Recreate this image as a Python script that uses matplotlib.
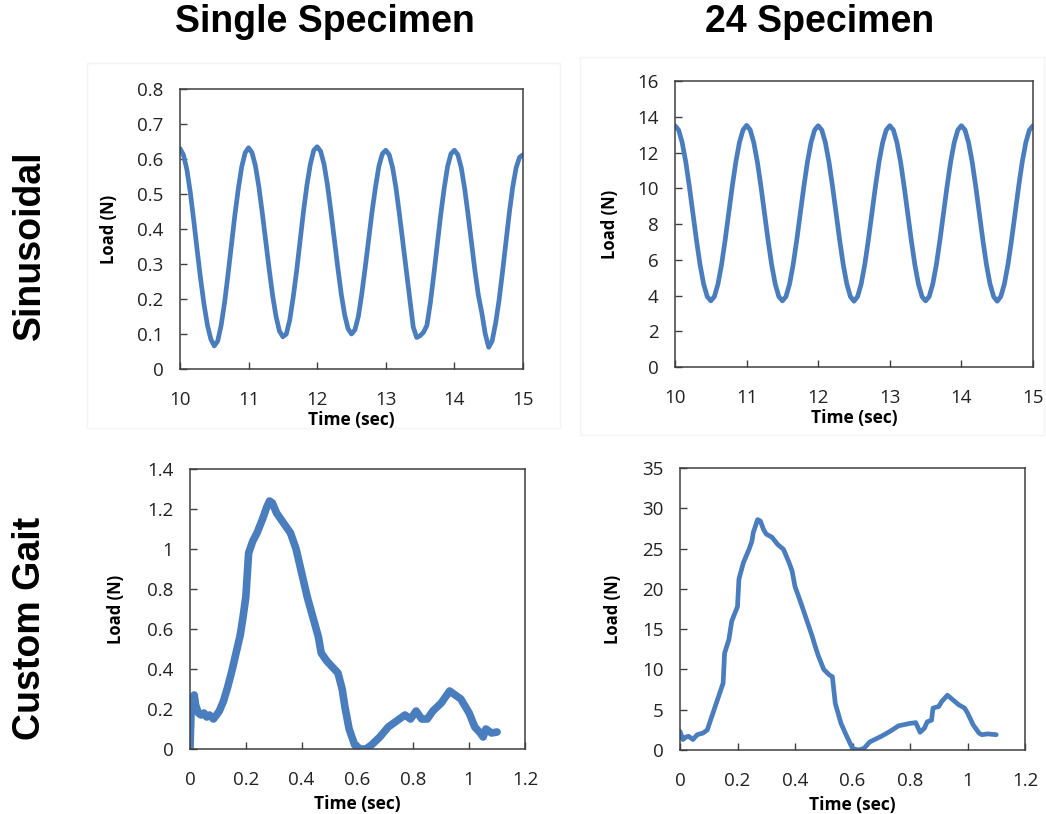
import matplotlib
matplotlib.use("Agg")
import matplotlib.pyplot as plt
from matplotlib.patches import Rectangle

# ---------------- data ----------------
col_titles = ["Single Specimen", "24 Specimen"]
row_titles = ["Sinusoidal", "Custom Gait"]

# Sinusoidal loading, 10-15 s, sampled every 0.05 s
sin_time = [round(10 + 0.05 * i, 2) for i in range(101)]

sin_single_load = [
    0.630, 0.612, 0.570, 0.505, 0.425, 0.340, 0.258, 0.185, 0.125, 0.085,
    0.066, 0.080, 0.125, 0.190, 0.270, 0.355, 0.440, 0.515, 0.578, 0.618,
    0.632, 0.618, 0.580, 0.520, 0.445, 0.365, 0.285, 0.210, 0.150, 0.108,
    0.092, 0.100, 0.140, 0.205, 0.280, 0.365, 0.450, 0.525, 0.585, 0.625,
    0.635, 0.622, 0.585, 0.525, 0.450, 0.370, 0.290, 0.215, 0.155, 0.115,
    0.100, 0.112, 0.150, 0.215, 0.290, 0.370, 0.450, 0.520, 0.580, 0.615,
    0.625, 0.612, 0.575, 0.515, 0.440, 0.360, 0.280, 0.200, 0.120, 0.090,
    0.095, 0.105, 0.125, 0.190, 0.270, 0.355, 0.440, 0.515, 0.578, 0.615,
    0.625, 0.612, 0.575, 0.515, 0.440, 0.360, 0.280, 0.210, 0.160, 0.100,
    0.062, 0.080, 0.130, 0.195, 0.275, 0.360, 0.445, 0.520, 0.575, 0.605,
    0.612,
]

sin_24_load = [
    13.50, 13.26, 12.56, 11.48, 10.11, 8.60, 7.09, 5.72, 4.64, 3.94,
    3.70, 3.94, 4.64, 5.72, 7.09, 8.60, 10.11, 11.48, 12.56, 13.26,
    13.52, 13.27, 12.56, 11.48, 10.11, 8.60, 7.09, 5.72, 4.64, 3.94,
    3.70, 3.94, 4.64, 5.72, 7.09, 8.60, 10.11, 11.48, 12.56, 13.26,
    13.50, 13.26, 12.56, 11.48, 10.11, 8.60, 7.09, 5.72, 4.64, 3.94,
    3.68, 3.94, 4.64, 5.72, 7.09, 8.60, 10.11, 11.48, 12.56, 13.26,
    13.50, 13.26, 12.56, 11.48, 10.11, 8.60, 7.09, 5.72, 4.64, 3.94,
    3.70, 3.94, 4.64, 5.72, 7.09, 8.60, 10.11, 11.48, 12.56, 13.26,
    13.50, 13.26, 12.56, 11.48, 10.11, 8.60, 7.09, 5.72, 4.64, 3.94,
    3.68, 3.94, 4.64, 5.72, 7.09, 8.60, 10.11, 11.48, 12.56, 13.26,
    13.50,
]

# Custom gait loading, one cycle
gait_single_time = [
    0.000, 0.004, 0.010, 0.015, 0.020, 0.030, 0.040, 0.050, 0.060, 0.070,
    0.084, 0.095, 0.105, 0.120, 0.135, 0.150, 0.165, 0.180, 0.190, 0.200,
    0.210, 0.225, 0.240, 0.260, 0.275, 0.285, 0.295, 0.310, 0.325, 0.340,
    0.360, 0.380, 0.400, 0.420, 0.440, 0.460, 0.470, 0.490, 0.510, 0.530,
    0.545, 0.555, 0.570, 0.590, 0.610, 0.630, 0.650, 0.680, 0.710, 0.740,
    0.770, 0.790, 0.810, 0.830, 0.850, 0.870, 0.900, 0.920, 0.930, 0.950,
    0.970, 1.000, 1.020, 1.040, 1.050, 1.060, 1.080, 1.100,
]
gait_single_load = [
    0.00, 0.20, 0.24, 0.27, 0.22, 0.18, 0.17, 0.18, 0.16, 0.17,
    0.15, 0.17, 0.19, 0.24, 0.31, 0.39, 0.48, 0.57, 0.66, 0.76,
    0.98, 1.04, 1.08, 1.15, 1.21, 1.24, 1.23, 1.18, 1.15, 1.12,
    1.08, 1.00, 0.88, 0.76, 0.66, 0.56, 0.48, 0.44, 0.41, 0.38,
    0.30, 0.21, 0.10, 0.02, 0.00, 0.00, 0.02, 0.06, 0.11, 0.14,
    0.17, 0.15, 0.19, 0.15, 0.15, 0.19, 0.23, 0.27, 0.29, 0.27,
    0.25, 0.18, 0.11, 0.08, 0.06, 0.10, 0.08, 0.085,
]

gait_24_time = [
    0.000, 0.010, 0.020, 0.030, 0.045, 0.060, 0.080, 0.095, 0.110, 0.130,
    0.150, 0.155, 0.170, 0.180, 0.200, 0.205, 0.220, 0.240, 0.250, 0.255,
    0.270, 0.280, 0.290, 0.300, 0.320, 0.340, 0.360, 0.380, 0.390, 0.400,
    0.420, 0.440, 0.460, 0.470, 0.480, 0.500, 0.520, 0.530, 0.540, 0.560,
    0.580, 0.600, 0.620, 0.640, 0.660, 0.700, 0.730, 0.760, 0.800, 0.820,
    0.835, 0.850, 0.860, 0.875, 0.880, 0.900, 0.910, 0.930, 0.950, 0.970,
    0.990, 1.000, 1.020, 1.040, 1.050, 1.070, 1.100,
]
gait_24_load = [
    2.3, 1.3, 1.6, 1.7, 1.3, 1.9, 2.1, 2.5, 4.1, 6.2,
    8.3, 12.0, 13.7, 16.0, 17.8, 21.2, 23.2, 24.9, 25.9, 27.0,
    28.6, 28.4, 27.4, 26.8, 26.4, 25.5, 24.9, 23.2, 22.2, 20.3,
    18.3, 16.2, 14.1, 12.9, 11.8, 10.0, 9.3, 9.1, 5.8, 3.3,
    1.7, 0.2, 0.0, 0.2, 1.0, 1.7, 2.3, 3.0, 3.3, 3.4,
    2.2, 2.7, 3.5, 3.7, 5.2, 5.4, 6.0, 6.8, 6.2, 5.6,
    5.2, 4.6, 3.1, 2.1, 1.9, 2.0, 1.9,
]

sin_xticks = [10, 11, 12, 13, 14, 15]
single_sin_yticks = [0, 0.1, 0.2, 0.3, 0.4, 0.5, 0.6, 0.7, 0.8]
multi_sin_yticks = [0, 2, 4, 6, 8, 10, 12, 14, 16]
gait_xticks = [0, 0.2, 0.4, 0.6, 0.8, 1, 1.2]
single_gait_yticks = [0, 0.2, 0.4, 0.6, 0.8, 1, 1.2, 1.4]
multi_gait_yticks = [0, 5, 10, 15, 20, 25, 30, 35]

# ---------------- figure ----------------
W, H = 1046, 814
fig = plt.figure(figsize=(W / 100, H / 100), dpi=100)
fig.patch.set_facecolor("white")

LINE = "#4a7dbd"
SPINE = "#3f3f3f"
TICK_FONT = "Open Sans"


def frac(left, top, right, bottom):
    return [left / W, 1 - bottom / H, (right - left) / W, (bottom - top) / H]


def fmt(v):
    if float(v).is_integer():
        return str(int(v))
    return ("%g" % v)


def style(ax, xticks, yticks, xlabelpad, ylabelpad):
    ax.set_xlim(xticks[0], xticks[-1])
    ax.set_ylim(yticks[0], yticks[-1])
    ax.set_xticks(xticks)
    ax.set_yticks(yticks)
    ax.set_xticklabels([fmt(v) for v in xticks], fontfamily=TICK_FONT, fontsize=13.5, color="#222222")
    ax.set_yticklabels([fmt(v) for v in yticks], fontfamily=TICK_FONT, fontsize=13.5, color="#222222")
    ax.tick_params(axis="both", direction="in", length=5, width=1, color=SPINE)
    ax.tick_params(axis="y", pad=12)
    ax.tick_params(axis="x", pad=16)
    for s in ax.spines.values():
        s.set_color(SPINE)
        s.set_linewidth(1.1)
    ax.set_xlabel("Time (sec)", fontfamily=TICK_FONT, fontweight="bold", fontsize=12.5, labelpad=xlabelpad)
    ax.set_ylabel("Load (N)", fontfamily=TICK_FONT, fontweight="bold", fontsize=12, labelpad=ylabelpad)


# faint chart-area frames (upper row only shows them)
for (l, t, r, b) in [(87, 63, 560, 428), (580, 57, 1044, 435)]:
    fig.patches.append(Rectangle((l / W, 1 - b / H), (r - l) / W, (b - t) / H,
                                 transform=fig.transFigure, fill=False,
                                 edgecolor="#f4f4f4", linewidth=1.0))

ax1 = fig.add_axes(frac(180, 89, 523, 369))
ax1.plot(sin_time, sin_single_load, color=LINE, lw=3.4, solid_capstyle="round")
style(ax1, sin_xticks, single_sin_yticks, 1, 14)

ax2 = fig.add_axes(frac(675, 81, 1033, 367))
ax2.plot(sin_time, sin_24_load, color=LINE, lw=3.4, solid_capstyle="round")
style(ax2, sin_xticks, multi_sin_yticks, 1, 13)

ax3 = fig.add_axes(frac(190, 469, 525, 749))
ax3.plot(gait_single_time, gait_single_load, color=LINE, lw=5.5, solid_capstyle="round", solid_joinstyle="round")
style(ax3, gait_xticks, single_gait_yticks, 4, 16)

ax4 = fig.add_axes(frac(680, 468, 1025, 750))
ax4.plot(gait_24_time, gait_24_load, color=LINE, lw=3.4, solid_capstyle="round", solid_joinstyle="round")
style(ax4, gait_xticks, multi_gait_yticks, 4, 14)

# column and row headings
for x, txt in zip([325, 820], col_titles):
    fig.text(x / W, 1 - 22 / H, txt, ha="center", va="center",
             fontfamily="Liberation Sans", fontweight="bold", fontsize=27)
for y, txt in zip([245, 628], row_titles):
    fig.text(30 / W, 1 - y / H, txt, ha="center", va="center", rotation=90,
             fontfamily="Liberation Sans", fontweight="bold", fontsize=27)

fig.savefig("out.png", dpi=100, facecolor="white")
